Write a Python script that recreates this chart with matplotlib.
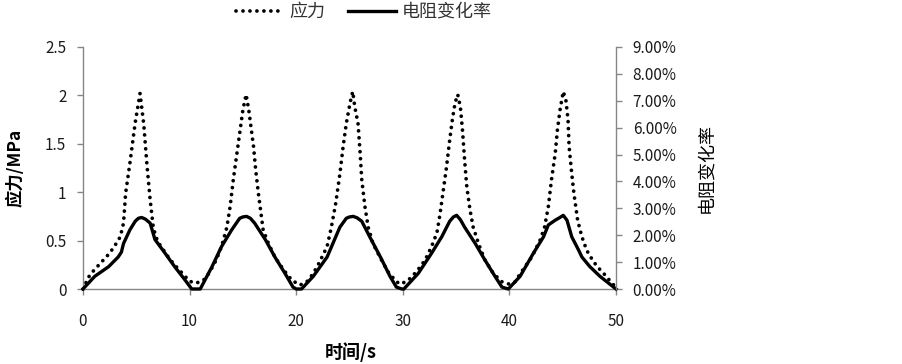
import matplotlib
matplotlib.use('Agg')
import matplotlib.pyplot as plt
from matplotlib.ticker import FuncFormatter

plt.rcParams['font.family'] = ['Noto Sans CJK SC', 'DejaVu Sans']

# --- data ---
t_stress = [0.0, 0.5, 1.0, 1.5, 2.0, 2.5, 3.0, 3.5, 3.8, 4.0, 4.4, 4.9, 5.35, 5.7, 6.0,
            6.3, 6.6, 7.0, 7.5, 8.0, 8.5, 9.0, 9.5, 10.0, 10.6, 11.3, 11.8, 12.5, 13.0,
            13.5, 13.8, 14.1, 14.4, 14.7, 15.0, 15.3, 15.55, 15.75, 16.0, 16.2, 16.45,
            16.7, 16.9, 17.4, 18.0, 18.8, 19.6, 20.35, 21.0, 21.6, 22.2, 22.9, 23.3,
            23.7, 24.1, 24.4, 24.7, 25.05, 25.3, 25.5, 25.8, 26.0, 26.15, 26.45, 26.75,
            27.2, 27.9, 28.6, 29.4, 29.8, 30.5, 31.3, 32.1, 32.7, 33.2, 33.5, 33.8,
            34.1, 34.4, 34.65, 34.9, 35.15, 35.4, 35.6, 35.8, 36.0, 36.3, 36.6, 37.1,
            37.7, 38.5, 39.3, 40.0, 40.5, 41.15, 42.1, 42.9, 43.3, 43.65, 43.95, 44.3,
            44.5, 44.75, 45.05, 45.3, 45.5, 45.6, 45.85, 46.05, 46.4, 46.8, 47.25, 47.9,
            48.5, 49.1, 49.6, 50.0]
stress = [0.00, 0.12, 0.19, 0.25, 0.31, 0.37, 0.45, 0.54, 0.68, 0.99, 1.30, 1.72, 2.02,
          1.70, 1.28, 0.92, 0.63, 0.49, 0.41, 0.33, 0.26, 0.20, 0.14, 0.08, 0.06, 0.09,
          0.16, 0.30, 0.44, 0.64, 0.85, 1.13, 1.37, 1.61, 1.85, 2.01, 1.85, 1.68, 1.47,
          1.23, 0.99, 0.78, 0.61, 0.47, 0.33, 0.20, 0.09, 0.04, 0.075, 0.16, 0.28, 0.44,
          0.64, 0.88, 1.19, 1.47, 1.71, 1.92, 2.04, 1.88, 1.71, 1.40, 1.13, 0.85, 0.64,
          0.47, 0.32, 0.18, 0.075, 0.05, 0.09, 0.18, 0.30, 0.44, 0.58, 0.78, 1.02, 1.26,
          1.54, 1.75, 1.92, 2.01, 1.88, 1.64, 1.33, 1.06, 0.82, 0.64, 0.47, 0.30, 0.16,
          0.075, 0.05, 0.07, 0.18, 0.33, 0.51, 0.64, 0.85, 1.13, 1.40, 1.64, 1.85, 2.04,
          1.95, 1.75, 1.47, 1.19, 0.99, 0.71, 0.54, 0.40, 0.28, 0.20, 0.13, 0.06, 0.02]

t_res = [0.0, 1.1, 2.4, 3.3, 3.6, 3.8, 4.4, 4.9, 5.2, 5.5, 5.85, 6.3, 6.75, 7.7, 8.6,
         9.6, 10.2, 11.0, 12.1, 13.0, 13.95, 14.7, 15.0, 15.35, 15.7, 16.1, 17.1, 18.0,
         18.95, 19.7, 20.0, 20.5, 21.6, 22.9, 23.6, 24.1, 24.7, 25.0, 25.35, 25.7, 26.15,
         26.9, 27.9, 28.8, 29.4, 29.9, 30.1, 31.45, 32.7, 33.65, 34.4, 34.75, 35.05,
         35.4, 35.8, 36.8, 37.7, 38.65, 39.3, 39.9, 41.0, 42.25, 43.2, 43.65, 44.3,
         44.7, 45.05, 45.4, 45.85, 46.5, 46.8, 47.55, 48.5, 50.0]
res_pct = [0.00, 0.47, 0.83, 1.19, 1.37, 1.69, 2.20, 2.52, 2.63, 2.66, 2.60, 2.45, 1.84,
           1.33, 0.83, 0.32, 0.00, 0.00, 0.83, 1.58, 2.20, 2.63, 2.68, 2.70, 2.63, 2.45,
           1.84, 1.19, 0.58, 0.07, 0.00, 0.00, 0.47, 1.19, 1.84, 2.30, 2.63, 2.68, 2.70,
           2.65, 2.52, 1.94, 1.19, 0.47, 0.07, 0.00, 0.00, 0.58, 1.33, 1.94, 2.52, 2.68,
           2.74, 2.58, 2.30, 1.69, 1.08, 0.47, 0.07, 0.00, 0.47, 1.33, 1.94, 2.38, 2.56,
           2.65, 2.74, 2.56, 1.94, 1.44, 1.19, 0.83, 0.47, 0.00]

x_ticks = [0, 10, 20, 30, 40, 50]
left_ticks = [0, 0.5, 1, 1.5, 2, 2.5]
right_ticks = [0, 1, 2, 3, 4, 5, 6, 7, 8, 9]

GRAY = '#868686'

fig = plt.figure(figsize=(9.03, 3.64), dpi=100)
ax = fig.add_axes([83/903, 1 - 289/364, 533/903, 242/364])
ax2 = ax.twinx()

l1, = ax.plot(t_stress, stress, color='black', lw=2.7,
              linestyle=(0, (0.01, 1.85)), dash_capstyle='round', clip_on=False,
              label='应力')
l2, = ax2.plot(t_res, res_pct, color='black', lw=2.4, solid_joinstyle='round',
               clip_on=False, label='电阻变化率')

ax.set_xlim(0, 50)
ax.set_ylim(0, 2.5)
ax2.set_ylim(0, 9)
ax.set_xticks(x_ticks)
ax.set_yticks(left_ticks)
ax.set_yticklabels([f'{v:g}' for v in left_ticks])
ax2.set_yticks(right_ticks)
ax2.yaxis.set_major_formatter(FuncFormatter(lambda v, p: f'{v:.2f}%'))

for a in (ax, ax2):
    a.spines['top'].set_visible(False)
    for s in ('left', 'right', 'bottom'):
        a.spines[s].set_color(GRAY)
        a.spines[s].set_linewidth(1.0)
    a.tick_params(colors=GRAY, labelcolor='#1a1a1a', labelsize=11,
                  direction='out', length=4, width=1)
ax.spines['right'].set_visible(False)
ax2.spines['left'].set_visible(False)
ax2.spines['bottom'].set_visible(False)
ax.tick_params(axis='x', pad=13)
ax.tick_params(axis='y', pad=8)
ax2.tick_params(axis='y', pad=8)

fig.text(15/903, 1 - 168/364, '应力/MPa', rotation=90, ha='center', va='center',
         fontsize=12.5, fontweight='bold')
fig.text(706/903, 1 - 168/364, '电阻变化率', rotation=90, ha='center', va='center',
         fontsize=13)
fig.text(351/903, 1 - 352/364, '时间/s', ha='center', va='center',
         fontsize=13, fontweight='bold')

leg = fig.legend(handles=[l1, l2], loc='center', bbox_to_anchor=(364/903, 1 - 12/364),
                 ncol=2, frameon=False, fontsize=13, handlelength=2.66,
                 columnspacing=1.27, handletextpad=0.3)
for txt in leg.get_texts():
    txt.set_color('#333333')

fig.savefig('out.png', dpi=100)
